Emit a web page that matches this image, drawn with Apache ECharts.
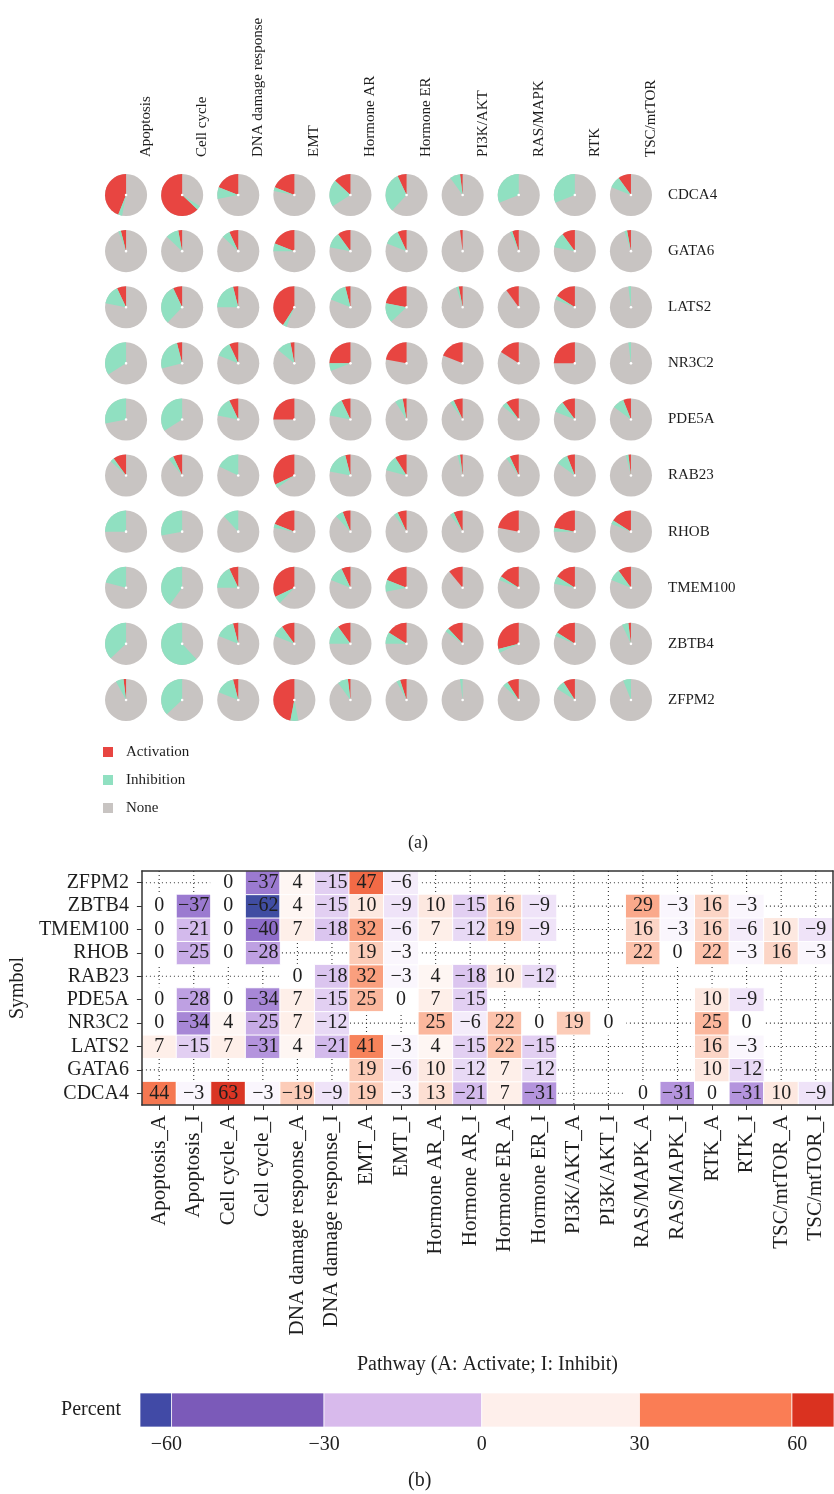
<!DOCTYPE html>
<html><head><meta charset="utf-8">
<script src="https://cdn.jsdelivr.net/npm/echarts@6/dist/echarts.min.js"></script>
<style>html,body{margin:0;padding:0;background:#fff}#c{width:834px;height:1494px}</style>
</head><body><div id="c"></div>
<script>
// ---------- data ----------
const genes = ['CDCA4','GATA6','LATS2','NR3C2','PDE5A','RAB23','RHOB','TMEM100','ZBTB4','ZFPM2'];
const pathways = ['Apoptosis','Cell cycle','DNA damage response','EMT','Hormone AR','Hormone ER','PI3K/AKT','RAS/MAPK','RTK','TSC/mtTOR'];
const pieLegend = ['Activation','Inhibition','None'];
// percent of samples (pie a), rows follow genes, columns follow pathways
const activationPct = [
  [44, 63, 19, 19, 13,  7,  2,  0,  0, 10],
  [ 4,  3,  7, 19, 10,  7,  2,  5, 10,  3],
  [ 7,  7,  4, 41,  4, 22,  3, 10, 16,  0],
  [ 0,  4,  7,  3, 25, 22, 19, 16, 25,  0],
  [ 0,  0,  7, 25,  7,  3,  7, 10, 10,  6],
  [10,  7,  0, 32,  4,  9,  2,  7,  6,  2],
  [ 0,  0,  0, 19,  6,  7,  7, 22, 22, 16],
  [ 0,  0,  7, 32,  7, 19, 11, 16, 16, 10],
  [ 0,  0,  4, 10, 10, 16, 12, 29, 16,  2],
  [ 2,  0,  4, 47,  2,  5,  0,  9,  9,  0]
];
const inhibitionPct = [
  [ 3,  3,  9,  3, 21, 31,  8, 31, 31,  9],
  [ 2, 10,  6,  6, 12, 12,  0,  2, 12,  2],
  [15, 31, 21,  3, 15, 15,  2,  0,  3,  2],
  [34, 25, 12, 11,  6,  0,  0,  0,  0,  2],
  [28, 34, 15,  0, 15,  6,  3,  4,  9,  9],
  [ 3,  4, 18,  3, 18, 12,  2,  3,  9,  2],
  [25, 28, 12,  3,  6,  3,  3,  0,  3,  3],
  [21, 40, 18,  6, 12,  9,  0,  3,  6,  9],
  [37, 62, 15,  9, 15,  9,  3,  3,  3,  5],
  [ 6, 37, 15,  6,  8,  3,  2,  4,  7,  6]
];
const heatColumns = ['Apoptosis_A','Apoptosis_I','Cell cycle_A','Cell cycle_I','DNA damage response_A','DNA damage response_I',
  'EMT_A','EMT_I','Hormone AR_A','Hormone AR_I','Hormone ER_A','Hormone ER_I','PI3K/AKT_A','PI3K/AKT_I',
  'RAS/MAPK_A','RAS/MAPK_I','RTK_A','RTK_I','TSC/mtTOR_A','TSC/mtTOR_I'];
// heatmap (b), rows follow genes (CDCA4 at bottom), null = no cell
const heatValues = [
  [44,-3,63,-3,-19,-9,19,-3,13,-21,7,-31,null,null,0,-31,0,-31,10,-9],
  [null,null,null,null,null,null,19,-6,10,-12,7,-12,null,null,null,null,10,-12,null,null],
  [7,-15,7,-31,4,-21,41,-3,4,-15,22,-15,null,null,null,null,16,-3,null,null],
  [0,-34,4,-25,7,-12,null,null,25,-6,22,0,19,0,null,null,25,0,null,null],
  [0,-28,0,-34,7,-15,25,0,7,-15,null,null,null,null,null,null,10,-9,null,null],
  [null,null,null,null,0,-18,32,-3,4,-18,10,-12,null,null,null,null,null,null,null,null],
  [0,-25,0,-28,null,null,19,-3,null,null,null,null,null,null,22,0,22,-3,16,-3],
  [0,-21,0,-40,7,-18,32,-6,7,-12,19,-9,null,null,16,-3,16,-6,10,-9],
  [0,-37,0,-62,4,-15,10,-9,10,-15,16,-9,null,null,29,-3,16,-3,null,null],
  [null,null,0,-37,4,-15,47,-6,null,null,null,null,null,null,null,null,null,null,null,null]
];
const colorbarTicks = [-60, -30, 0, 30, 60];
const colorbarBands = [[-65,-59],[-59,-30],[-30,0],[0,30],[30,59],[59,67]];
const colorbarLabel = ['Percent'];

// ---------- styles ----------
const SERIF = '"Liberation Serif","DejaVu Serif",serif';
const TXT = '#1e1e1e';
const FRAME = '#333';
const pieColors = {Activation:'#E84541', Inhibition:'#90E0C1', None:'#C8C4C2'};
const bandColors = ['#414AA6','#7B5AB9','#D8BAEC','#FEEFEB','#FA7D55','#DA3220'];
const heatScale = ['#404DA2','#6A5BB5','#8E6DC9','#B898DF','#D6BEED','#EDE0F7','#FFFFFF',
                   '#FDE8E0','#FCC9B4','#FAA586','#F8875F','#F05E3B','#DA3524'];
const minus = v => (v < 0 ? '\u2212' + Math.abs(v) : String(v));

// ---------- build ----------
const pieData = [];
genes.forEach((g, r) => pathways.forEach((p, c) => pieData.push([c, r, activationPct[r][c], inhibitionPct[r][c]])));

const heatData = [];
genes.forEach((g, r) => heatColumns.forEach((col, c) => {
  const v = heatValues[r][c];
  if (v === null) return;
  const isA = /_A$/.test(col);
  heatData.push([c, r, v, isA ? Math.abs(v) : -Math.abs(v)]);
}));

const TOP = -Math.PI / 2;
function pieRender(kind) {
  return function (params, api) {
    const ctr = api.coord([api.value(0), api.value(1)]);
    const sz = api.size([1, 1]);
    const r = Math.min(sz[0], sz[1]) * 0.375;
    const color = api.visual('color');
    if (kind === 'None') {
      return {type: 'circle', shape: {cx: ctr[0], cy: ctr[1], r: r}, style: {fill: color}};
    }
    const a = api.value(2) / 100, g = api.value(3) / 100;
    let s, e;
    if (kind === 'Activation') { s = TOP - 2 * Math.PI * a; e = TOP; }
    else { s = TOP - 2 * Math.PI * (a + g); e = TOP - 2 * Math.PI * a; }
    const children = [];
    if (e - s > 1e-6) {
      children.push({type: 'sector', shape: {cx: ctr[0], cy: ctr[1], r0: 0, r: r, startAngle: s, endAngle: e, clockwise: true},
        style: {fill: color}});
    }
    if (kind === 'Inhibition') {
      children.push({type: 'circle', shape: {cx: ctr[0], cy: ctr[1], r: 1.3}, style: {fill: '#fff'}});
    }
    return {type: 'group', children: children};
  };
}
const dotStyle = {stroke: '#333', lineWidth: 1.1, lineDash: [1, 3]};
function vLine(params, api) {
  const cs = params.coordSys;
  const x = api.coord([api.value(0), 0])[0];
  return {type: 'line', shape: {x1: x, y1: cs.y, x2: x, y2: cs.y + cs.height}, style: dotStyle};
}
function hLine(params, api) {
  const cs = params.coordSys;
  const y = api.coord([0, api.value(1)])[1];
  return {type: 'line', shape: {x1: cs.x, y1: y, x2: cs.x + cs.width, y2: y}, style: dotStyle};
}
const hidden = {axisLine: {show: false}, axisTick: {show: false}, splitLine: {show: false}, axisLabel: {show: false}};
const frameAxis = Object.assign({}, hidden, {z: 10, axisLine: {show: true, lineStyle: {color: FRAME, width: 1.5}}});

const option = {
  backgroundColor: '#fff',
  animation: false,
  textStyle: {fontFamily: SERIF},
  legend: {
    data: pieLegend, orient: 'vertical', left: 98, top: 739, icon: 'rect',
    itemWidth: 10, itemHeight: 10, itemGap: 12, selectedMode: false,
    textStyle: {fontFamily: SERIF, fontSize: 15, color: TXT, lineHeight: 16, padding: [0, 0, 0, 8]}
  },
  grid: [
    {left: 98, top: 167, width: 561, height: 561},
    {left: 141, top: 871, width: 692, height: 234},
    {left: 140, top: 1393, width: 694, height: 34}
  ],
  xAxis: [
    {type: 'category', gridIndex: 0, data: pathways, position: 'top',
      axisLine: {show: false}, axisTick: {show: false}, splitLine: {show: false},
      axisLabel: {interval: 0, rotate: -90, margin: 10, fontSize: 15, color: TXT, fontFamily: SERIF,
        verticalAlign: 'top', lineHeight: 40}},
    {type: 'category', gridIndex: 1, data: heatColumns, position: 'bottom', z: 10,
      name: 'Pathway (A: Activate; I: Inhibit)', nameLocation: 'middle', nameGap: 250,
      nameTextStyle: {fontSize: 20, color: TXT, fontFamily: SERIF},
      axisLine: {show: true, lineStyle: {color: FRAME, width: 1.5}},
      axisTick: {show: true, alignWithLabel: true, length: 5, lineStyle: {color: FRAME}},
      splitLine: {show: false},
      axisLabel: {interval: 0, rotate: 90, margin: 10, fontSize: 21, color: TXT, fontFamily: SERIF}},
    Object.assign({type: 'category', gridIndex: 1, data: heatColumns, position: 'top'}, frameAxis),
    {type: 'value', gridIndex: 2, min: -65, max: 67,
      axisLine: {show: false}, axisTick: {show: false}, splitLine: {show: false},
      axisLabel: {customValues: colorbarTicks, formatter: v => minus(v), margin: 8, fontSize: 20, color: TXT, fontFamily: SERIF}}
  ],
  yAxis: [
    {type: 'category', gridIndex: 0, data: genes, inverse: true, position: 'right',
      axisLine: {show: false}, axisTick: {show: false}, splitLine: {show: false},
      axisLabel: {interval: 0, margin: 9, fontSize: 15, color: TXT, fontFamily: SERIF}},
    {type: 'category', gridIndex: 1, data: genes, position: 'left', z: 10,
      name: 'Symbol', nameLocation: 'middle', nameGap: 110, nameRotate: 90,
      nameTextStyle: {fontSize: 20, color: TXT, fontFamily: SERIF},
      axisLine: {show: true, lineStyle: {color: FRAME, width: 1.5}},
      axisTick: {show: true, alignWithLabel: true, length: 5, lineStyle: {color: FRAME}},
      splitLine: {show: false},
      axisLabel: {interval: 0, margin: 13, fontSize: 20, color: TXT, fontFamily: SERIF}},
    Object.assign({type: 'category', gridIndex: 1, data: genes, position: 'right'}, frameAxis),
    {type: 'category', gridIndex: 2, data: colorbarLabel,
      axisLine: {show: false}, axisTick: {show: false}, splitLine: {show: false},
      axisLabel: {margin: 19, fontSize: 20, color: TXT, fontFamily: SERIF}}
  ],
  visualMap: [{
    type: 'continuous', show: false, seriesIndex: 3, dimension: 3, min: -60, max: 60,
    inRange: {color: heatScale}
  }],
  series: [
    {name: 'None', type: 'custom', xAxisIndex: 0, yAxisIndex: 0, data: pieData,
      itemStyle: {color: pieColors.None}, renderItem: pieRender('None'), encode: {x: 0, y: 1}},
    {name: 'Activation', type: 'custom', xAxisIndex: 0, yAxisIndex: 0, data: pieData,
      itemStyle: {color: pieColors.Activation}, renderItem: pieRender('Activation'), encode: {x: 0, y: 1}},
    {name: 'Inhibition', type: 'custom', xAxisIndex: 0, yAxisIndex: 0, data: pieData,
      itemStyle: {color: pieColors.Inhibition}, renderItem: pieRender('Inhibition'), encode: {x: 0, y: 1}},
    {name: 'heat', type: 'heatmap', xAxisIndex: 1, yAxisIndex: 1, data: heatData, z: 3,
      itemStyle: {borderColor: '#fff', borderWidth: 1},
      label: {show: true, formatter: p => minus(p.value[2]), fontSize: 20, color: TXT, fontFamily: SERIF},
      emphasis: {disabled: true}},
    {name: 'colorbar', type: 'custom', xAxisIndex: 3, yAxisIndex: 3,
      data: colorbarBands.map((b, i) => ({value: [b[0], b[1], 0], itemStyle: {color: bandColors[i]}})),
      encode: {x: [0, 1], y: 2},
      renderItem: function (params, api) {
        const p0 = api.coord([api.value(0), api.value(2)]);
        const p1 = api.coord([api.value(1), api.value(2)]);
        const h = api.size([0, 1])[1];
        return {type: 'rect', shape: {x: p0[0], y: p0[1] - h / 2, width: p1[0] - p0[0], height: h},
          style: {fill: api.visual('color'), stroke: 'rgba(255,255,255,0.7)', lineWidth: 1}};
      }},
    {name: 'vgrid', type: 'custom', xAxisIndex: 1, yAxisIndex: 1, z: 1, silent: true,
      data: heatColumns.map((c, i) => [i, 0]), encode: {x: 0, y: 1}, renderItem: vLine},
    {name: 'hgrid', type: 'custom', xAxisIndex: 1, yAxisIndex: 1, z: 1, silent: true,
      data: genes.map((g, j) => [0, j]), encode: {x: 0, y: 1}, renderItem: hLine}
  ],
  graphic: [
    {type: 'text', left: 408, top: 834, style: {text: '(a)', fontSize: 18, fontFamily: SERIF, fill: TXT}},
    {type: 'text', left: 408, top: 1471, style: {text: '(b)', fontSize: 20, fontFamily: SERIF, fill: TXT}}
  ]
};

const chart = echarts.init(document.getElementById('c'));
chart.setOption(option);
</script>
</body></html>
